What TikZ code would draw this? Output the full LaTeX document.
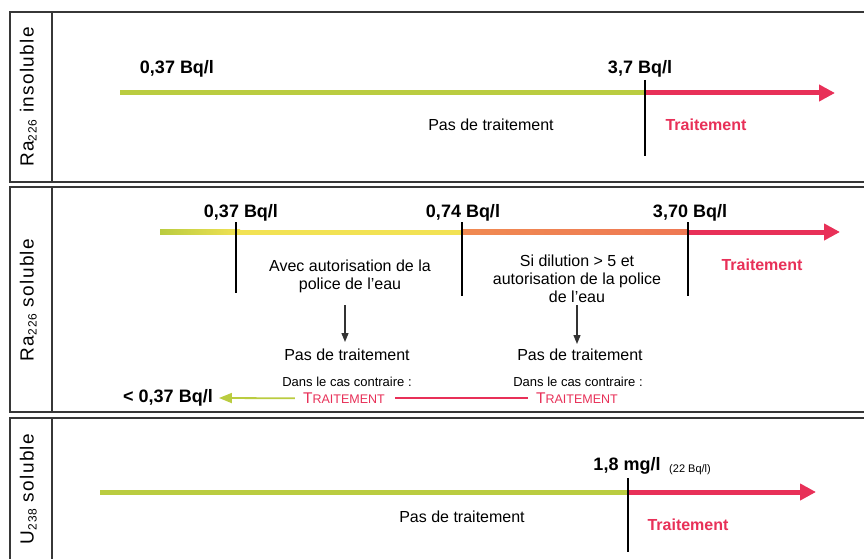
\documentclass[tikz,border=0pt]{standalone}
\usepackage{fontspec}
\setmainfont{Liberation Sans}
\newfontfamily\labelfont[LetterSpace=7]{Liberation Sans}
\usetikzlibrary{arrows.meta}

\definecolor{scgreen}{RGB}{186,204,64}
\definecolor{scyellow}{RGB}{242,226,84}
\definecolor{scorange}{RGB}{240,138,82}
\definecolor{scred}{RGB}{232,48,88}
\definecolor{scframe}{RGB}{55,55,55}

\newcommand{\smallcapsTr}{{\fontsize{15.5}{17}\selectfont T}{\fontsize{12.5}{14}\selectfont RAITEMENT}}
\newcommand{\isotope}[2]{#1\raisebox{-0.3ex}{\fontsize{12}{13}\selectfont #2}}

\begin{document}
\begin{tikzpicture}[x=1pt,y=-1pt,
  frame/.style={draw=scframe,line width=1.3pt},
  panellabel/.style={rotate=90,inner sep=0pt,anchor=mid,font=\labelfont\fontsize{19}{21}\selectfont},
  txt/.style={inner sep=0pt,anchor=mid,yshift=-3pt},
  value/.style={txt,font=\bfseries\fontsize{18}{20}\selectfont},
  body/.style={txt,font=\fontsize{16}{18}\selectfont},
  multi/.style={inner sep=0pt,anchor=center,align=center,font=\fontsize{16}{18}\selectfont},
  small/.style={txt,font=\fontsize{13}{15}\selectfont},
  treat/.style={txt,text=scred,font=\bfseries\fontsize{16}{18}\selectfont},
  treatsc/.style={txt,text=scred},
  bar/.style={line width=5pt,line cap=butt},
  bartip/.style={bar,-{Triangle[length=16pt,width=16pt]}},
  tick/.style={draw=black,line width=1.3pt},
  down/.style={draw=black!80,line width=1.3pt,-{Triangle[length=9pt,width=7pt]}},
]
\useasboundingbox (0,0) rectangle (864,559);
\fill[white] (0,0) rectangle (864,559);

% ---------- frames ----------
\draw[frame] (880,12) -| (10,182) -- (880,182);
\draw[frame] (52,12) -- (52,182);
\draw[frame] (880,187) -| (10,412) -- (880,412);
\draw[frame] (52,187) -- (52,412);
\draw[frame] (880,418) -| (10,575);
\draw[frame] (52,418) -- (52,575);

% ---------- panel labels ----------
\node[panellabel] (lab1) at (31,97) {\isotope{Ra}{226} insoluble};
\node[panellabel] (lab2) at (31,300) {\isotope{Ra}{226} soluble};
\node[panellabel] (lab3) at (31,489) {\isotope{U}{238} soluble};

% ---------- Ra226 insoluble ----------
\coordinate (a1s) at (120,93);
\coordinate (a1t) at (645,93);
\coordinate (a1e) at (835,93);
\coordinate (k1top) at (645,80);
\coordinate (k1bot) at (645,156);
\draw[bar,scgreen] (a1s) -- (a1t);
\draw[bartip,scred] (a1t) -- (a1e);
\draw[tick] (k1top) -- (k1bot);
\node[value] (v1a) at (177,68) {0,37 Bq/l};
\node[value] (v1b) at (640,68) {3,7 Bq/l};
\node[body] (p1) at (491,125) {Pas de traitement};
\node[treat] (t1) at (706,125) {Traitement};

% ---------- Ra226 soluble ----------
\coordinate (a2s) at (160,232);
\coordinate (a2k1) at (236,232);
\coordinate (a2k2) at (462,232);
\coordinate (a2k3) at (688,232);
\coordinate (a2e) at (840,232);
\shade[left color=scgreen,right color=scyellow] (160,229.5) rectangle (240,234.5);
\fill[scyellow] (240,229.5) rectangle (462,234.5);
\shade[left color=scorange,right color=scorange!80!scred] (462,229.5) rectangle (688,234.5);
\draw[bartip,scred] (a2k3) -- (a2e);
\draw[tick] (236,222) -- (236,293);
\draw[tick] (462,222) -- (462,296);
\draw[tick] (688,222) -- (688,296);
\node[value] (v2a) at (241,212) {0,37 Bq/l};
\node[value] (v2b) at (463,212) {0,74 Bq/l};
\node[value] (v2c) at (690,212) {3,70 Bq/l};

\node[multi] (c1) at (350,276) {Avec autorisation de la\\police de l'eau};
\node[multi] (c2) at (577,279) {Si dilution > 5 et\\autorisation de la police\\de l'eau};
\node[treat] (t2) at (762,265) {Traitement};

\coordinate (d1s) at (345,305);
\coordinate (d1e) at (345,342);
\coordinate (d2s) at (577,305);
\coordinate (d2e) at (577,344);
\draw[down] (d1s) -- (d1e);
\draw[down] (d2s) -- (d2e);

\node[body] (p2a) at (347,355) {Pas de traitement};
\node[body] (p2b) at (580,355) {Pas de traitement};
\node[small] (e1) at (347,381) {Dans le cas contraire :};
\node[small] (e2) at (578,381) {Dans le cas contraire :};
\node[treatsc] (ts1) at (344,398) {\smallcapsTr};
\node[treatsc] (ts2) at (577,398) {\smallcapsTr};
\node[value] (low) at (168,397) {< 0,37 Bq/l};

\draw[scgreen,line width=1.8pt,-{Triangle[length=13pt,width=10pt]}] (ts1.west) ++(-8,0) -- ([xshift=6pt]low.east);
\draw[scred,line width=1.8pt] ([xshift=10pt]ts1.east) -- ([xshift=-8pt]ts2.west);

% ---------- U238 soluble ----------
\coordinate (a3s) at (100,492);
\coordinate (a3t) at (628,492);
\coordinate (a3e) at (816,492);
\draw[bar,scgreen] (a3s) -- (a3t);
\draw[bartip,scred] (a3t) -- (a3e);
\draw[tick] (628,478) -- (628,552);
\node[value] (v3) at (627,465) {1,8 mg/l};
\node[txt,font=\fontsize{11}{12}\selectfont] (v3b) at (690,467) {(22 Bq/l)};
\node[body] (p3) at (462,517) {Pas de traitement};
\node[treat] (t3) at (688,525) {Traitement};
\end{tikzpicture}
\end{document}
